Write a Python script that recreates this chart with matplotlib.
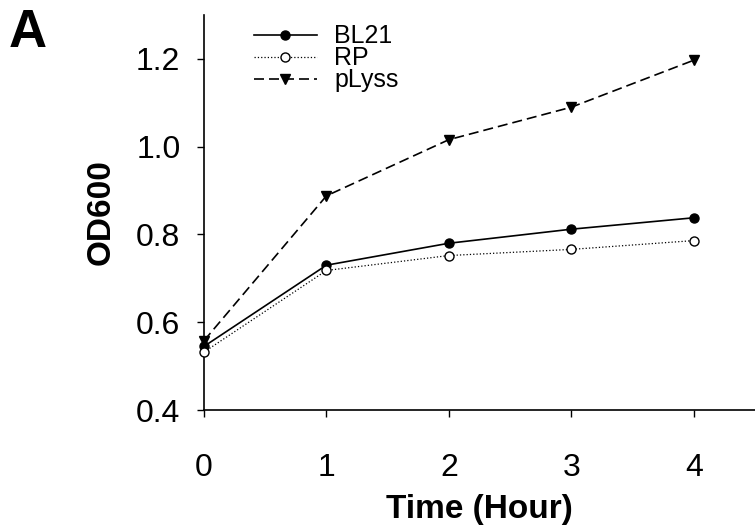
import matplotlib.pyplot as plt
import numpy as np

plt.rcParams['font.family'] = ['Liberation Sans', 'DejaVu Sans']

# data
time = [0, 1, 2, 3, 4]
bl21 = [0.545, 0.730, 0.780, 0.812, 0.838]
rp = [0.532, 0.718, 0.752, 0.766, 0.786]
plyss = [0.558, 0.888, 1.016, 1.090, 1.197]

fig = plt.figure(figsize=(7.55, 5.25), dpi=100)
ax = fig.add_axes([0.2702, 0.219, 0.7298, 0.7524])

ax.plot(time, bl21, '-', color='black', lw=1.2, marker='o', ms=6.5,
        mfc='black', mec='black', label='BL21', clip_on=False, zorder=3)
ax.plot(time, rp, ':', color='black', lw=0.9, marker='o', ms=6.5,
        mfc='white', mec='black', label='RP', clip_on=False, zorder=3)
ax.plot(time, plyss, '--', color='black', lw=1.2, marker='v', ms=7.5,
        mfc='black', mec='black', label='pLyss', dashes=(6, 3),
        clip_on=False, zorder=4)

ax.set_xlim(0, 4.5)
ax.set_ylim(0.4, 1.3)
ax.set_xticks([0, 1, 2, 3, 4])
ax.set_yticks([0.4, 0.6, 0.8, 1.0, 1.2])
ax.set_yticklabels(['0.4', '0.6', '0.8', '1.0', '1.2'])
ax.spines['top'].set_visible(False)
ax.spines['right'].set_visible(False)
ax.spines['left'].set_linewidth(1.2)
ax.spines['bottom'].set_linewidth(1.2)
ax.tick_params(direction='out', length=5, width=1, labelsize=23)
ax.tick_params(axis='x', pad=26)
ax.tick_params(axis='y', pad=12)

ax.set_xlabel('Time (Hour)', fontsize=24, fontweight='bold', labelpad=8)
ax.set_ylabel('OD600', fontsize=24, fontweight='bold', labelpad=14)

ax.legend(loc='upper left', bbox_to_anchor=(0.05, 1.033), frameon=False,
          fontsize=18, handlelength=2.5, handletextpad=0.7, labelspacing=-0.08)

fig.text(0.012, 0.985, 'A', fontsize=38, fontweight='bold', va='top', ha='left')

fig.savefig('out.png', dpi=100)
